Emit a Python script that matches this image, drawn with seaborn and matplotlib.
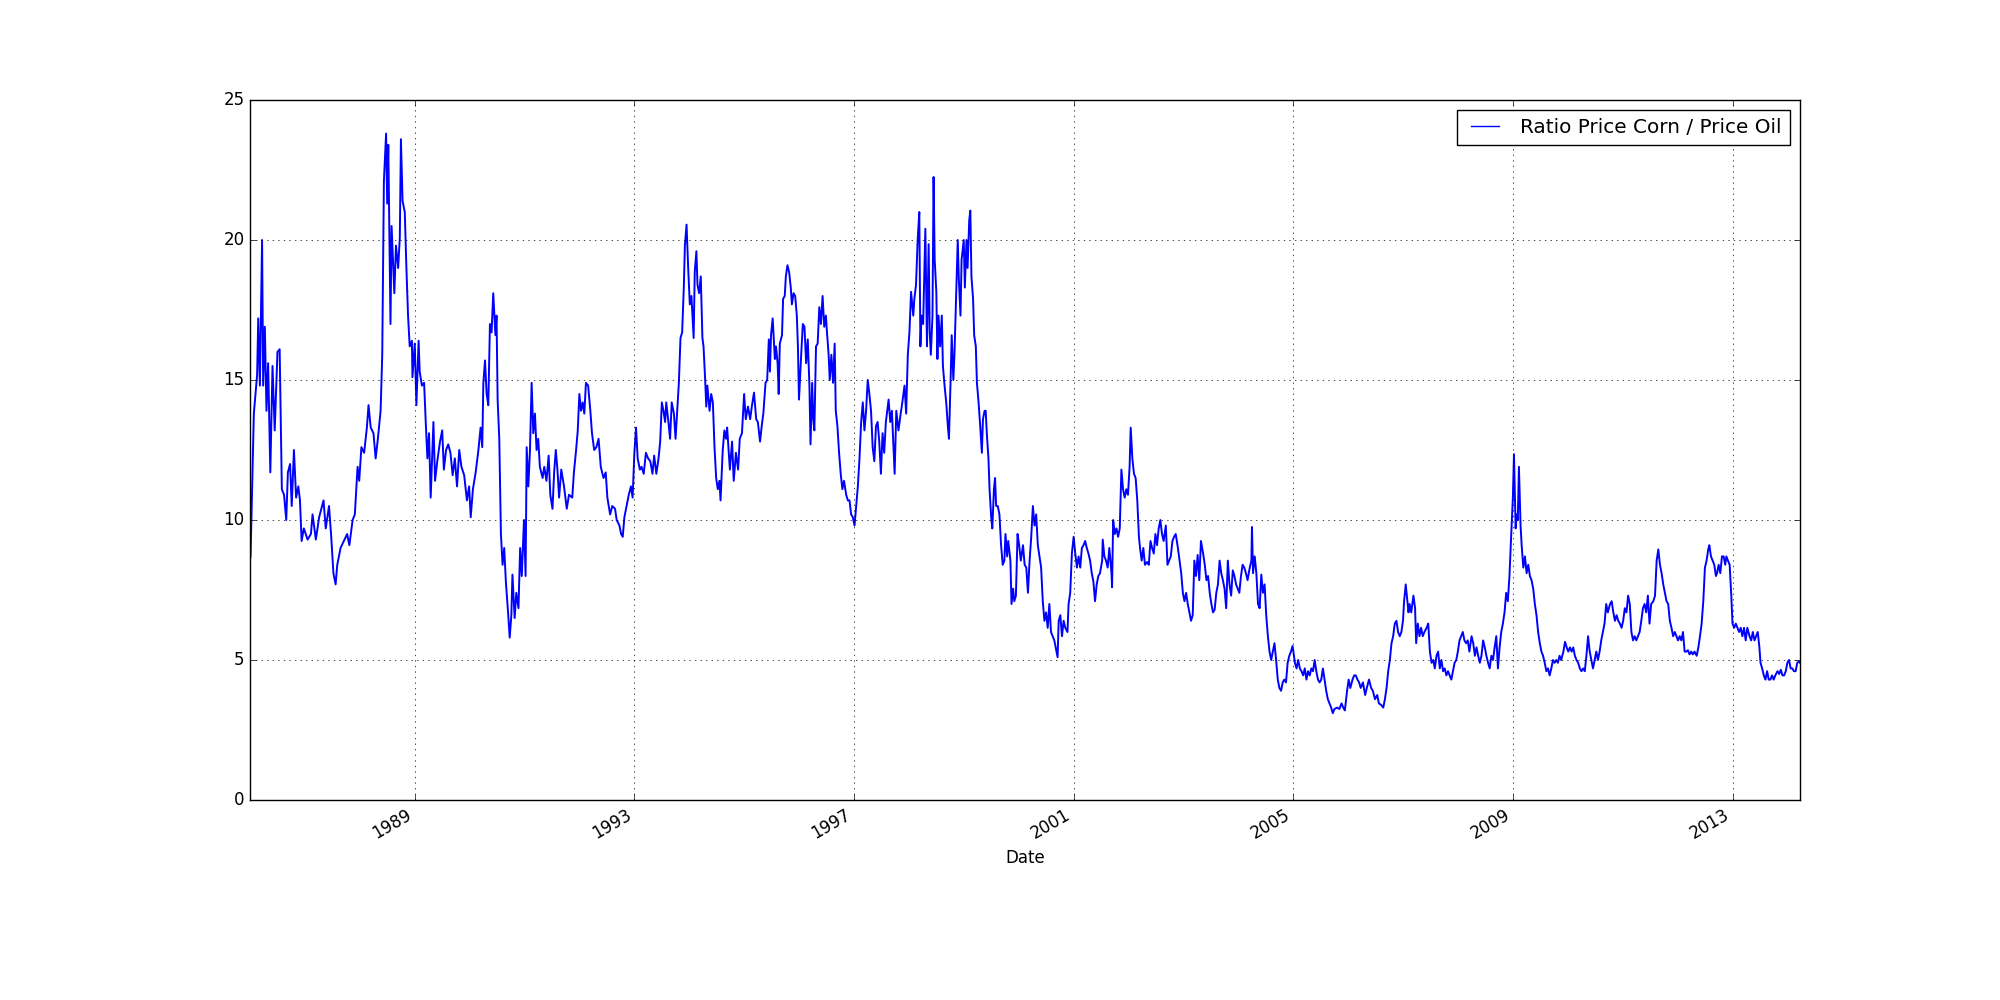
import pandas as pd
import matplotlib
matplotlib.use("Agg")
import matplotlib.pyplot as plt
import matplotlib.dates as mdates
import seaborn as sns

### Ratio of corn price to oil price (decimal year, ratio) ###

seg_1986 = [(1986.00, 8.6), (1986.01, 8.7), (1986.04, 11.2), (1986.07, 13.8), (1986.13, 15.2),
            (1986.15, 17.2), (1986.18, 14.8), (1986.22, 20.0), (1986.24, 14.8), (1986.27, 16.9),
            (1986.30, 13.9), (1986.33, 15.6), (1986.37, 11.7), (1986.41, 15.5), (1986.45, 13.2),
            (1986.50, 16.0), (1986.54, 16.1), (1986.56, 13.5), (1986.58, 11.1), (1986.62, 10.9),
            (1986.66, 10.0), (1986.69, 11.7), (1986.73, 12.0), (1986.76, 10.5), (1986.80, 12.5),
            (1986.84, 10.8), (1986.88, 11.2), (1986.91, 10.7), (1986.94, 9.25), (1986.98, 9.7),
            (1987.05, 9.3), (1987.11, 9.5), (1987.14, 10.2), (1987.20, 9.3), (1987.26, 10.1),
            (1987.34, 10.7), (1987.38, 9.7), (1987.44, 10.5), (1987.48, 9.4), (1987.52, 8.1),
            (1987.56, 7.7), (1987.59, 8.4), (1987.65, 9.0), (1987.71, 9.25), (1987.77, 9.5),
            (1987.81, 9.1), (1987.87, 10.0), (1987.91, 10.2), (1987.96, 11.9), (1987.99, 11.4),
            (1988.03, 12.6), (1988.08, 12.4), (1988.13, 13.3), (1988.16, 14.1), (1988.20, 13.3),
            (1988.25, 13.1), (1988.29, 12.2), (1988.33, 12.9), (1988.38, 13.9), (1988.41, 15.9),
            (1988.44, 22.1), (1988.48, 23.8), (1988.50, 21.3), (1988.52, 23.4), (1988.56, 17.0),
            (1988.58, 20.5), (1988.61, 19.1), (1988.63, 18.1), (1988.66, 19.8), (1988.70, 19.0),
            (1988.73, 20.1), (1988.75, 23.6)]

seg_1989 = [(1988.78, 21.4), (1988.82, 21.0), (1988.85, 19.0), (1988.88, 17.3), (1988.91, 16.2),
            (1988.95, 16.4), (1988.96, 15.1), (1989.00, 16.3), (1989.03, 14.1), (1989.07, 16.4),
            (1989.09, 15.3), (1989.13, 14.8), (1989.17, 14.9), (1989.20, 13.5), (1989.23, 12.2),
            (1989.26, 13.1), (1989.29, 10.8), (1989.34, 13.5), (1989.37, 11.4), (1989.41, 12.1),
            (1989.46, 12.8), (1989.50, 13.2), (1989.53, 11.8), (1989.57, 12.5), (1989.61, 12.7),
            (1989.65, 12.4), (1989.69, 11.6), (1989.73, 12.2), (1989.77, 11.2), (1989.81, 12.5),
            (1989.85, 11.9), (1989.90, 11.6), (1989.95, 10.7), (1989.99, 11.2), (1990.02, 10.1),
            (1990.06, 11.1), (1990.11, 11.7), (1990.16, 12.5), (1990.20, 13.3), (1990.23, 12.6),
            (1990.25, 14.9), (1990.28, 15.7), (1990.31, 14.5), (1990.34, 14.1), (1990.37, 17.0),
            (1990.40, 16.7), (1990.43, 18.1), (1990.47, 16.6), (1990.49, 17.3), (1990.51, 14.3),
            (1990.54, 12.9), (1990.57, 9.5), (1990.60, 8.4), (1990.63, 9.0), (1990.66, 7.8),
            (1990.70, 6.7), (1990.73, 5.8), (1990.76, 6.6), (1990.78, 8.05), (1990.82, 6.5),
            (1990.85, 7.4), (1990.89, 6.85), (1990.92, 9.0), (1990.95, 8.0), (1990.99, 10.0),
            (1991.02, 8.0), (1991.04, 12.6), (1991.07, 11.2), (1991.10, 12.5), (1991.13, 14.9),
            (1991.16, 13.1), (1991.19, 13.8), (1991.22, 12.5), (1991.25, 12.9), (1991.28, 11.9),
            (1991.33, 11.5), (1991.36, 11.9), (1991.40, 11.4), (1991.44, 12.3), (1991.47, 10.9),
            (1991.51, 10.4), (1991.54, 11.7), (1991.57, 12.5)]

seg_1992 = [(1991.60, 11.8), (1991.63, 10.8), (1991.67, 11.8), (1991.72, 11.2), (1991.77, 10.4),
            (1991.81, 10.9), (1991.87, 10.8), (1991.90, 11.7), (1991.94, 12.5), (1991.97, 13.2),
            (1992.00, 14.5), (1992.03, 13.9), (1992.06, 14.2), (1992.09, 13.8), (1992.12, 14.9),
            (1992.16, 14.8), (1992.20, 13.9), (1992.23, 13.1), (1992.27, 12.5), (1992.31, 12.6),
            (1992.35, 12.9), (1992.39, 11.9), (1992.44, 11.5), (1992.48, 11.7), (1992.51, 10.8),
            (1992.56, 10.2), (1992.60, 10.5), (1992.65, 10.4), (1992.68, 10.0), (1992.73, 9.8),
            (1992.76, 9.5), (1992.79, 9.4), (1992.82, 10.1), (1992.86, 10.5), (1992.90, 10.9),
            (1992.94, 11.2), (1992.97, 10.8), (1993.00, 12.4), (1993.03, 13.3), (1993.06, 12.2),
            (1993.10, 11.8), (1993.13, 11.9), (1993.17, 11.65), (1993.21, 12.4), (1993.25, 12.2),
            (1993.29, 12.1), (1993.33, 11.65), (1993.36, 12.3), (1993.40, 11.65), (1993.44, 12.2),
            (1993.47, 12.8), (1993.50, 14.2), (1993.53, 13.9), (1993.56, 13.5), (1993.58, 14.2),
            (1993.62, 13.5), (1993.65, 12.9), (1993.68, 14.2), (1993.72, 13.8), (1993.75, 12.9),
            (1993.78, 13.9), (1993.81, 14.9), (1993.84, 16.5), (1993.87, 16.7), (1993.90, 18.3),
            (1993.92, 19.8), (1993.95, 20.55), (1993.98, 19.0), (1994.01, 17.7), (1994.04, 18.0),
            (1994.08, 16.5), (1994.10, 18.85), (1994.13, 19.6), (1994.15, 18.4), (1994.18, 18.1),
            (1994.21, 18.7), (1994.24, 16.5), (1994.26, 16.2), (1994.29, 15.0), (1994.31, 14.05),
            (1994.33, 14.8), (1994.37, 13.9), (1994.40, 14.5)]

seg_1995 = [(1994.43, 14.2), (1994.46, 12.6), (1994.49, 11.5), (1994.52, 11.1), (1994.55, 11.4),
            (1994.57, 10.7), (1994.61, 12.5), (1994.64, 13.2), (1994.67, 12.9), (1994.69, 13.3),
            (1994.72, 12.4), (1994.74, 11.8), (1994.78, 12.8), (1994.81, 11.4), (1994.85, 12.4),
            (1994.89, 11.8), (1994.92, 12.9), (1994.96, 13.1), (1995.00, 14.5), (1995.03, 13.6),
            (1995.07, 14.05), (1995.11, 13.6), (1995.14, 14.05), (1995.18, 14.55), (1995.22, 13.6),
            (1995.25, 13.5), (1995.29, 12.8), (1995.32, 13.35), (1995.35, 13.8), (1995.39, 14.9),
            (1995.42, 15.0), (1995.45, 16.45), (1995.47, 15.3), (1995.49, 16.6), (1995.52, 17.2),
            (1995.56, 15.75), (1995.58, 16.2), (1995.61, 15.6), (1995.63, 14.5), (1995.65, 16.3),
            (1995.69, 16.6), (1995.71, 17.9), (1995.74, 18.0), (1995.76, 18.7), (1995.79, 19.1),
            (1995.82, 18.85), (1995.85, 18.3), (1995.87, 17.7), (1995.90, 18.1), (1995.93, 18.0),
            (1995.96, 17.3), (1995.98, 16.2), (1996.00, 14.3), (1996.04, 15.9), (1996.07, 17.0),
            (1996.10, 16.9), (1996.13, 15.6), (1996.16, 16.45), (1996.19, 14.8), (1996.21, 12.7),
            (1996.24, 14.9), (1996.26, 13.6), (1996.28, 13.2), (1996.31, 16.2), (1996.34, 16.3),
            (1996.37, 17.6), (1996.40, 17.0), (1996.43, 18.0), (1996.46, 16.9), (1996.49, 17.3),
            (1996.51, 16.7), (1996.54, 15.9), (1996.56, 15.0), (1996.59, 15.9), (1996.62, 14.9),
            (1996.65, 16.3), (1996.67, 13.9), (1996.70, 13.35), (1996.73, 12.4), (1996.76, 11.65),
            (1996.79, 11.1), (1996.82, 11.4), (1996.86, 10.9), (1996.89, 10.7), (1996.92, 10.7),
            (1996.95, 10.2), (1996.98, 10.1), (1997.01, 9.8), (1997.04, 10.5), (1997.07, 11.2),
            (1997.10, 12.2), (1997.13, 13.5), (1997.16, 14.2), (1997.19, 13.2), (1997.22, 13.9)]

seg_1998 = [(1997.25, 15.0), (1997.28, 14.5), (1997.31, 13.9), (1997.34, 12.6), (1997.37, 12.1),
            (1997.40, 13.35), (1997.43, 13.5), (1997.46, 12.8), (1997.49, 11.65), (1997.52, 13.1),
            (1997.55, 12.4), (1997.58, 13.5), (1997.63, 14.3), (1997.66, 13.5), (1997.69, 13.9),
            (1997.74, 11.65), (1997.77, 13.9), (1997.81, 13.2), (1997.85, 13.8), (1997.88, 14.2),
            (1997.92, 14.8), (1997.95, 13.8), (1997.98, 15.9), (1998.01, 16.7), (1998.04, 18.15),
            (1998.08, 17.3), (1998.10, 17.9), (1998.13, 18.4), (1998.16, 20.0), (1998.19, 21.0),
            (1998.21, 16.2), (1998.23, 17.3), (1998.26, 17.0), (1998.30, 20.4), (1998.33, 16.2),
            (1998.36, 19.85), (1998.38, 16.7), (1998.40, 15.9), (1998.43, 17.3), (1998.45, 22.25),
            (1998.47, 19.3), (1998.50, 18.15), (1998.52, 15.75), (1998.54, 17.3), (1998.57, 16.2),
            (1998.60, 17.3), (1998.62, 15.5), (1998.65, 14.8), (1998.68, 14.2), (1998.71, 13.35),
            (1998.73, 12.9), (1998.76, 15.0), (1998.78, 16.6), (1998.81, 15.0), (1998.83, 15.9),
            (1998.86, 18.0), (1998.89, 20.0), (1998.91, 18.6), (1998.94, 17.3), (1998.96, 19.3),
            (1999.00, 20.0), (1999.02, 18.3), (1999.05, 20.0), (1999.07, 19.0), (1999.10, 20.7),
            (1999.12, 21.05), (1999.14, 18.7), (1999.17, 17.9), (1999.19, 16.6), (1999.22, 16.2),
            (1999.24, 14.9), (1999.27, 14.2), (1999.30, 13.35), (1999.33, 12.4), (1999.35, 13.6),
            (1999.38, 13.9), (1999.40, 13.9), (1999.42, 13.1), (1999.45, 12.2), (1999.47, 11.1),
            (1999.50, 10.1), (1999.52, 9.7), (1999.55, 11.1), (1999.57, 11.5), (1999.59, 10.5),
            (1999.62, 10.5), (1999.65, 10.2), (1999.68, 9.1), (1999.71, 8.4), (1999.74, 8.55),
            (1999.76, 9.5), (1999.79, 8.7), (1999.81, 9.25), (1999.85, 8.55), (1999.87, 7.0),
            (1999.90, 7.55), (1999.92, 7.1), (1999.95, 7.3), (1999.98, 9.5), (2000.01, 9.1),
            (2000.04, 8.55)]

seg_2000 = [(2000.08, 9.1), (2000.11, 8.4), (2000.14, 8.3), (2000.17, 7.4), (2000.20, 8.55),
            (2000.23, 9.4), (2000.26, 10.5), (2000.29, 9.8), (2000.32, 10.2), (2000.35, 9.1),
            (2000.38, 8.7), (2000.41, 8.3), (2000.44, 7.1), (2000.47, 6.4), (2000.50, 6.7),
            (2000.53, 6.15), (2000.56, 7.0), (2000.59, 6.0), (2000.62, 5.85), (2000.65, 5.7),
            (2000.68, 5.4), (2000.71, 5.1), (2000.73, 6.4), (2000.76, 6.6), (2000.79, 5.85),
            (2000.82, 6.4), (2000.85, 6.15), (2000.89, 6.0), (2000.91, 7.0), (2000.94, 7.4),
            (2000.97, 8.8), (2001.00, 9.4), (2001.03, 8.8), (2001.06, 8.3), (2001.09, 8.7),
            (2001.12, 8.3), (2001.15, 9.0), (2001.18, 9.1), (2001.21, 9.25), (2001.24, 9.0),
            (2001.27, 8.8), (2001.30, 8.55), (2001.33, 8.1), (2001.36, 7.8), (2001.39, 7.1),
            (2001.42, 7.7), (2001.45, 8.0), (2001.48, 8.1), (2001.52, 8.55), (2001.53, 9.3),
            (2001.56, 8.7), (2001.59, 8.55), (2001.62, 8.3), (2001.65, 9.0), (2001.69, 8.1),
            (2001.70, 7.6), (2001.72, 10.0), (2001.75, 9.5), (2001.78, 9.7), (2001.81, 9.4),
            (2001.84, 9.7), (2001.87, 11.8), (2001.90, 11.1), (2001.93, 10.8), (2001.96, 11.1),
            (2001.99, 10.9), (2002.02, 11.9), (2002.04, 13.3), (2002.07, 12.2), (2002.10, 11.65),
            (2002.13, 11.5), (2002.16, 10.7), (2002.19, 9.4), (2002.21, 9.0), (2002.24, 8.55),
            (2002.27, 9.0), (2002.30, 8.4), (2002.34, 8.5), (2002.37, 8.4), (2002.40, 9.25),
            (2002.43, 9.0), (2002.46, 8.8), (2002.49, 9.5), (2002.52, 9.1), (2002.55, 9.7),
            (2002.58, 10.0), (2002.61, 9.5), (2002.64, 9.25), (2002.68, 9.8), (2002.71, 8.4),
            (2002.74, 8.55), (2002.77, 8.7), (2002.80, 9.25), (2002.83, 9.4), (2002.86, 9.5)]

seg_2003 = [(2002.90, 9.0), (2002.93, 8.55), (2002.96, 8.1), (2002.99, 7.4), (2003.02, 7.1),
            (2003.05, 7.4), (2003.08, 7.0), (2003.11, 6.7), (2003.14, 6.4), (2003.17, 6.6),
            (2003.20, 8.55), (2003.23, 8.0), (2003.26, 8.75), (2003.29, 7.85), (2003.32, 9.25),
            (2003.36, 8.8), (2003.39, 8.4), (2003.42, 7.85), (2003.45, 8.0), (2003.48, 7.4),
            (2003.51, 7.0), (2003.54, 6.7), (2003.57, 6.8), (2003.60, 7.4), (2003.63, 7.7),
            (2003.66, 8.55), (2003.69, 8.1), (2003.72, 7.85), (2003.75, 7.55), (2003.78, 6.85),
            (2003.81, 8.55), (2003.84, 7.7), (2003.87, 7.3), (2003.90, 8.2), (2003.93, 8.0),
            (2003.96, 7.7), (2003.99, 7.55), (2004.02, 7.4), (2004.05, 8.0), (2004.08, 8.4),
            (2004.11, 8.3), (2004.14, 8.1), (2004.17, 7.85), (2004.21, 8.3), (2004.24, 8.55),
            (2004.25, 9.75), (2004.27, 8.1), (2004.30, 8.7), (2004.33, 8.1), (2004.36, 7.0),
            (2004.39, 6.85), (2004.42, 8.05), (2004.45, 7.4), (2004.48, 7.7), (2004.51, 6.6),
            (2004.54, 5.85), (2004.57, 5.3), (2004.60, 5.0), (2004.63, 5.3), (2004.66, 5.6),
            (2004.69, 5.0), (2004.72, 4.3), (2004.75, 4.0), (2004.78, 3.9), (2004.81, 4.2),
            (2004.84, 4.3), (2004.87, 4.2), (2004.90, 4.9), (2004.93, 5.15), (2004.96, 5.3),
            (2004.99, 5.5), (2005.03, 4.9), (2005.06, 4.7), (2005.09, 5.0), (2005.12, 4.7),
            (2005.15, 4.6), (2005.18, 4.45), (2005.21, 4.7), (2005.24, 4.3), (2005.27, 4.6),
            (2005.30, 4.45), (2005.33, 4.7), (2005.36, 4.6), (2005.39, 5.0), (2005.42, 4.6),
            (2005.45, 4.3), (2005.48, 4.2), (2005.51, 4.3), (2005.54, 4.7), (2005.57, 4.3),
            (2005.60, 3.9), (2005.63, 3.6), (2005.66, 3.45), (2005.69, 3.3)]

seg_2006 = [(2005.72, 3.1), (2005.75, 3.25), (2005.80, 3.3), (2005.84, 3.25), (2005.88, 3.45),
            (2005.91, 3.3), (2005.94, 3.2), (2005.98, 3.9), (2006.01, 4.3), (2006.04, 4.0),
            (2006.08, 4.3), (2006.11, 4.45), (2006.14, 4.45), (2006.17, 4.3), (2006.20, 4.2),
            (2006.23, 4.0), (2006.27, 4.2), (2006.31, 3.75), (2006.34, 4.0), (2006.38, 4.3),
            (2006.42, 4.0), (2006.45, 3.9), (2006.49, 3.6), (2006.53, 3.75), (2006.56, 3.45),
            (2006.60, 3.4), (2006.64, 3.3), (2006.67, 3.6), (2006.70, 4.0), (2006.73, 4.6),
            (2006.76, 5.0), (2006.79, 5.6), (2006.82, 5.85), (2006.85, 6.3), (2006.88, 6.4),
            (2006.91, 6.0), (2006.94, 5.85), (2006.97, 6.0), (2007.00, 6.4), (2007.02, 7.1),
            (2007.05, 7.7), (2007.07, 7.3), (2007.10, 6.7), (2007.12, 7.0), (2007.15, 6.7),
            (2007.17, 7.0), (2007.19, 7.3), (2007.22, 6.85), (2007.24, 5.6), (2007.27, 6.3),
            (2007.30, 5.85), (2007.33, 6.15), (2007.36, 5.85), (2007.39, 6.0), (2007.43, 6.15),
            (2007.46, 6.3), (2007.49, 5.3), (2007.52, 4.9), (2007.55, 5.0), (2007.58, 4.7),
            (2007.61, 5.15), (2007.64, 5.3), (2007.67, 4.7), (2007.70, 5.0), (2007.73, 4.6),
            (2007.76, 4.7), (2007.79, 4.45), (2007.82, 4.6), (2007.85, 4.45), (2007.88, 4.3),
            (2007.91, 4.6), (2007.94, 4.9), (2007.97, 5.0), (2008.00, 5.3), (2008.03, 5.7),
            (2008.06, 5.85), (2008.09, 6.0), (2008.12, 5.7), (2008.15, 5.6), (2008.18, 5.7),
            (2008.21, 5.3), (2008.25, 5.85), (2008.28, 5.6), (2008.31, 5.15), (2008.34, 5.45),
            (2008.37, 5.15), (2008.40, 4.9), (2008.43, 5.15), (2008.46, 5.7), (2008.49, 5.45),
            (2008.52, 5.15)]

seg_2009 = [(2008.55, 4.9), (2008.58, 4.7), (2008.61, 5.15), (2008.64, 5.0), (2008.67, 5.45),
            (2008.70, 5.85), (2008.73, 4.7), (2008.76, 5.45), (2008.79, 6.0), (2008.82, 6.3),
            (2008.85, 6.7), (2008.88, 7.4), (2008.91, 7.1), (2008.94, 8.0), (2008.97, 9.4),
            (2009.00, 10.8), (2009.02, 12.35), (2009.05, 9.7), (2009.07, 10.2), (2009.09, 10.0),
            (2009.11, 11.9), (2009.14, 9.8), (2009.16, 9.1), (2009.19, 8.3), (2009.22, 8.7),
            (2009.25, 8.1), (2009.28, 8.4), (2009.31, 8.0), (2009.34, 7.85), (2009.37, 7.55),
            (2009.40, 7.0), (2009.43, 6.6), (2009.46, 6.0), (2009.49, 5.6), (2009.52, 5.3),
            (2009.55, 5.15), (2009.58, 4.9), (2009.61, 4.6), (2009.64, 4.7), (2009.67, 4.45),
            (2009.70, 4.7), (2009.73, 5.0), (2009.76, 4.9), (2009.79, 5.0), (2009.82, 4.9),
            (2009.85, 5.15), (2009.88, 5.0), (2009.92, 5.3), (2009.95, 5.65), (2009.98, 5.45),
            (2010.01, 5.3), (2010.04, 5.45), (2010.07, 5.3), (2010.10, 5.45), (2010.13, 5.15),
            (2010.16, 5.0), (2010.19, 4.9), (2010.22, 4.7), (2010.25, 4.6), (2010.28, 4.7),
            (2010.31, 4.6), (2010.34, 5.15), (2010.37, 5.85), (2010.40, 5.3), (2010.43, 5.0),
            (2010.46, 4.7), (2010.49, 5.0), (2010.52, 5.3), (2010.55, 5.0), (2010.58, 5.3),
            (2010.61, 5.7), (2010.64, 6.0), (2010.67, 6.3), (2010.70, 7.0), (2010.73, 6.7),
            (2010.77, 7.0), (2010.80, 7.1), (2010.83, 6.7), (2010.86, 6.4), (2010.89, 6.6),
            (2010.92, 6.4), (2010.95, 6.3), (2010.98, 6.15), (2011.01, 6.4), (2011.04, 6.85),
            (2011.07, 6.7), (2011.10, 7.3), (2011.13, 7.0), (2011.16, 6.0), (2011.19, 5.7),
            (2011.22, 5.85), (2011.25, 5.7), (2011.28, 5.85), (2011.31, 6.0), (2011.34, 6.4)]

seg_2012 = [(2011.37, 6.85), (2011.40, 7.0), (2011.43, 6.7), (2011.46, 7.3), (2011.49, 6.3),
            (2011.52, 7.0), (2011.56, 7.1), (2011.59, 7.3), (2011.62, 8.55), (2011.65, 8.95),
            (2011.68, 8.4), (2011.71, 8.1), (2011.74, 7.7), (2011.77, 7.4), (2011.80, 7.1),
            (2011.83, 7.0), (2011.86, 6.4), (2011.89, 6.15), (2011.92, 5.85), (2011.95, 6.0),
            (2011.98, 5.85), (2012.01, 5.7), (2012.04, 5.85), (2012.07, 5.7), (2012.10, 6.0),
            (2012.13, 5.3), (2012.16, 5.3), (2012.19, 5.35), (2012.22, 5.2), (2012.25, 5.3),
            (2012.28, 5.2), (2012.31, 5.3), (2012.35, 5.15), (2012.38, 5.45), (2012.41, 5.85),
            (2012.44, 6.3), (2012.47, 7.1), (2012.50, 8.3), (2012.53, 8.55), (2012.56, 8.95),
            (2012.58, 9.1), (2012.61, 8.7), (2012.64, 8.55), (2012.67, 8.4), (2012.70, 8.0),
            (2012.72, 8.1), (2012.75, 8.4), (2012.78, 8.1), (2012.81, 8.7), (2012.84, 8.7),
            (2012.87, 8.4), (2012.89, 8.7), (2012.92, 8.55), (2012.95, 8.4), (2012.98, 7.3),
            (2013.00, 6.3), (2013.03, 6.15), (2013.06, 6.3), (2013.09, 6.15), (2013.12, 6.0),
            (2013.15, 6.15), (2013.18, 5.85), (2013.21, 6.15), (2013.24, 5.7), (2013.27, 6.15),
            (2013.31, 5.85), (2013.34, 5.7), (2013.37, 6.0), (2013.40, 5.7), (2013.43, 5.85),
            (2013.46, 6.0), (2013.49, 5.45), (2013.51, 4.9), (2013.54, 4.7), (2013.57, 4.45),
            (2013.60, 4.3), (2013.63, 4.6), (2013.66, 4.3), (2013.69, 4.3), (2013.72, 4.45),
            (2013.75, 4.3), (2013.78, 4.45), (2013.82, 4.6), (2013.85, 4.5), (2013.88, 4.65),
            (2013.91, 4.45), (2013.94, 4.45), (2013.97, 4.6), (2014.00, 4.9), (2014.03, 5.0),
            (2014.06, 4.7), (2014.09, 4.7), (2014.12, 4.6), (2014.15, 4.6), (2014.18, 4.9),
            (2014.21, 4.95), (2014.23, 4.9)]

tick_years = [1989, 1993, 1997, 2001, 2005, 2009, 2013]
y_ticks = [0, 5, 10, 15, 20, 25]
series_label = "Ratio Price Corn / Price Oil"

###Build the series###

def to_date(y):
    yr = int(y)
    return pd.Timestamp(year=yr, month=1, day=1) + pd.Timedelta(days=(y - yr) * 365.25)

rows = seg_1986 + seg_1989 + seg_1992 + seg_1995 + seg_1998 + seg_2000 + seg_2003 + seg_2006 + seg_2009 + seg_2012
df = pd.DataFrame(rows, columns=["year", "ratio"])
df["Date"] = df["year"].apply(to_date)

###Plot###

plt.style.use("classic")
fig, ax = plt.subplots(figsize=(20, 10), dpi=100)
fig.patch.set_facecolor("white")

sns.lineplot(data=df, x="Date", y="ratio", color="b", linewidth=1.4,
             estimator=None, label=series_label, ax=ax)

ax.set_xlim(df["Date"].iloc[0], df["Date"].iloc[-1])
ax.set_ylim(0, 25)
ax.set_yticks(y_ticks)
ax.set_xticks([mdates.date2num(pd.Timestamp(year=y, month=1, day=1)) for y in tick_years])
ax.set_xticklabels([str(y) for y in tick_years])
ax.set_xlabel("Date")
ax.set_ylabel("")
ax.grid(True)
leg = ax.legend(loc="upper right")
for h in leg.get_lines():
    h.set_linewidth(1)

fig.subplots_adjust(left=0.125, right=0.9, top=0.9, bottom=0.2)
for lbl in ax.get_xticklabels():
    lbl.set_rotation(30)
    lbl.set_ha("right")

plt.savefig("out.png", dpi=100, facecolor="white")
